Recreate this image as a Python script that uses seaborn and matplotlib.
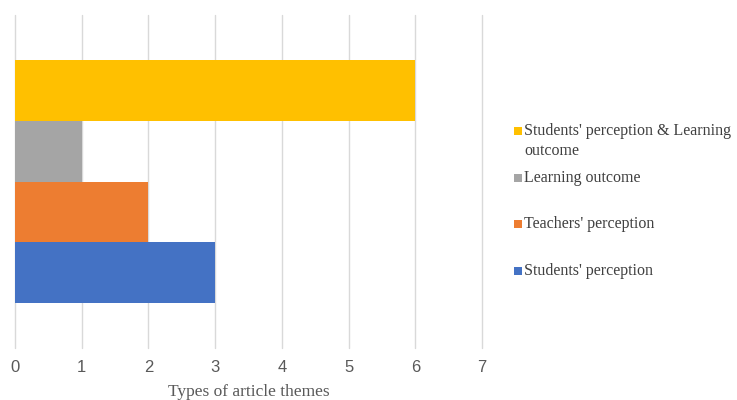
import matplotlib
matplotlib.use("Agg")
import matplotlib.pyplot as plt
import seaborn as sns
import pandas as pd
from matplotlib.patches import Rectangle

# Data (top to bottom in the chart)
themes = ["Students' perception & Learning outcome", "Learning outcome",
          "Teachers' perception", "Students' perception"]
counts = [6, 1, 2, 3]
colors = ["#FFC000", "#A5A5A5", "#ED7D31", "#4472C4"]
legend_labels = ["Students' perception & Learning\noutcome", "Learning outcome",
                 "Teachers' perception", "Students' perception"]
x_ticks = [0, 1, 2, 3, 4, 5, 6, 7]
x_label = "Types of article themes"

df = pd.DataFrame({"group": ["Types"] * len(themes), "theme": themes, "count": counts})

sns.set_theme(style="white")
fig = plt.figure(figsize=(7.37, 4.0), dpi=100)
ax = fig.add_axes([15 / 737, 1 - 348 / 400, (482 - 15) / 737, (348 - 15) / 400])

sns.barplot(data=df, x="count", y="group", hue="theme", hue_order=themes,
            palette=colors, orient="h", width=0.727, gap=0, dodge=True,
            saturation=1, edgecolor="none", linewidth=0, legend=False, ax=ax,
            zorder=3)

ax.set_xlim(0, 7)
ax.set_xticks(x_ticks)
ax.set_xticklabels([str(t) for t in x_ticks], fontfamily="Liberation Sans",
                   fontsize=12, color="#595959")
ax.set_yticks([])
ax.set_ylabel("")
ax.tick_params(axis="x", length=0, pad=9)
for s in ax.spines.values():
    s.set_visible(False)
ax.grid(axis="x", color="#d9d9d9", linewidth=1.0, zorder=0)
ax.grid(axis="y", visible=False)
ax.set_axisbelow(True)
for gl in ax.get_xgridlines():
    gl.set_clip_on(False)
ax.set_xlabel(x_label, fontfamily="Liberation Serif", fontsize=12.5,
              color="#595959", labelpad=6)

# Legend (manual placement to mimic spread layout)
ys = [131, 178, 224, 271]
for lab, col, y in zip(legend_labels, colors, ys):
    fig.patches.append(Rectangle((514 / 737, 1 - (y + 4) / 400), 8 / 737, 8 / 400,
                                 transform=fig.transFigure, facecolor=col,
                                 edgecolor="none"))
    fig.text(524 / 737, 1 - (y - 8) / 400, lab, fontfamily="Liberation Serif",
             fontsize=11.5, color="#404040", va="top", ha="left", linespacing=1.3)

fig.savefig("out.png", dpi=100, facecolor="white")
